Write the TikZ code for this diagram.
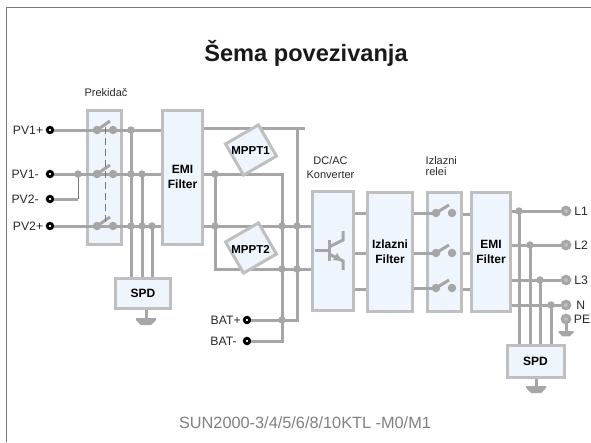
\documentclass[tikz,border=0pt]{standalone}
\usepackage{fontspec}
\setmainfont{Liberation Sans}
\usepackage{tikz}
\usetikzlibrary{arrows.meta,positioning,calc}
\tikzset{
  every node/.append style={font=\fontsize{12.2}{13}\selectfont},
}
\begin{document}
\begin{tikzpicture}[
    x=1pt,
    y=-1pt,
    block/.style={
        rectangle,
        draw=boxgray,
        fill=boxblue,
        line width=3pt,
        inner sep=0pt,
        align=center,
        font=\fontsize{12}{15}\selectfont\bfseries
    },
    wire/.style={line width=3pt, draw=wiregray},
    thinline/.style={line width=1pt, draw=framegray},
    dot/.style={circle, fill=wiregray, inner sep=0pt, minimum size=7.5pt},
    swdot/.style={circle, fill=wiregray, inner sep=0pt, minimum size=8.5pt},
    term/.style={circle, draw=black, fill=white, line width=2.8pt, inner sep=0pt, minimum size=5.5pt},
    outterm/.style={circle, draw=wiregray, fill=wirelight, line width=3pt, inner sep=0pt, minimum size=7.5pt},
    lbl/.style={inner sep=0pt, text=textdark},
    captext/.style={inner sep=0pt, text=textdark, font=\fontsize{11}{14}\selectfont, align=center},
    gnd/.pic={
        \fill[wiregray] (-10,0) -- (10,0) -- (10,2) -- (5,7) -- (-5,7) -- (-10,2) -- cycle;
    }
]
% Color definitions
\definecolor{boxgray}{RGB}{191,191,191}
\definecolor{boxblue}{RGB}{238,245,252}
\definecolor{wiregray}{RGB}{166,166,166}
\definecolor{wirelight}{RGB}{190,190,190}
\definecolor{framegray}{RGB}{120,120,120}
\definecolor{textdark}{RGB}{40,40,40}

\useasboundingbox (0,0) rectangle (591,442);
\draw[framegray, line width=1pt] (6.5,442) -- (6.5,7.5) -- (591,7.5);

% Titles
\node[inner sep=0pt, font=\fontsize{23.6}{25}\selectfont\bfseries, text=black!90] (title) at (306,53) {Šema povezivanja};
\node[inner sep=0pt, font=\fontsize{16.3}{18}\selectfont, text=black!50] (model) at (305,423) {SUN2000-3/4/5/6/8/10KTL -M0/M1};

% Blocks
\node[block, minimum width=34pt, minimum height=134pt] (brk) at (104.5,177.5) {};
\node[block, minimum width=40pt, minimum height=134pt] (emia) at (182.5,177) {EMI\\Filter};
\node[block, minimum width=55pt, minimum height=30pt] (spda) at (143,293.5) {SPD};
\node[block, minimum width=41pt, minimum height=119pt] (conv) at (333,251) {};
\node[block, minimum width=45pt, minimum height=119pt] (ofil) at (390,251.5) {Izlazni\\Filter};
\node[block, minimum width=34pt, minimum height=119pt] (rel) at (444,251.5) {};
\node[block, minimum width=39pt, minimum height=119pt] (emib) at (491,251.5) {EMI\\Filter};
\node[block, minimum width=57pt, minimum height=32pt] (spdb) at (535.5,361) {SPD};

% Captions
\node[captext] (brkcap) at (106,93) {Prekidač};
\node[captext] (convcap) at (330.5,168) {DC/AC\\Konverter};
\node[captext, align=left, anchor=west, font=\fontsize{11}{11}\selectfont] (relcap) at (425.5,166) {Izlazni\\relei};

% Input terminals
\node[term] (pva) at (50,130) {};
\node[term] (pvb) at (50,174) {};
\node[term] (pvc) at (50,199) {};
\node[term] (pvd) at (50,226) {};
\node[term] (bata) at (247,320) {};
\node[term] (batb) at (247,341) {};
\node[lbl, left=2.5pt of pva] (pvalbl) {PV1+};
\node[lbl, left=7pt of pvb] (pvblbl) {PV1-};
\node[lbl, left=7pt of pvc] (pvclbl) {PV2-};
\node[lbl, left=2.5pt of pvd] (pvdlbl) {PV2+};
\node[lbl, left=2pt of bata] (batalbl) {BAT+};
\node[lbl, left=6pt of batb] (batblbl) {BAT-};

% Junctions
\coordinate (jpv) at (78,174);
\coordinate (ja) at (131,130);
\coordinate (jb) at (131,174);
\coordinate (jc) at (131,226);
\coordinate (jd) at (142,174);
\coordinate (je) at (142,226);
\coordinate (jf) at (152,226);
\coordinate (jg) at (215,174);
\coordinate (jh) at (215,226);
\coordinate (ji) at (282,226);
\coordinate (jj) at (297,226);
\coordinate (jk) at (282,269);
\coordinate (jl) at (297,269);
\coordinate (jm) at (282,320);
\coordinate (top) at (297,128);
\coordinate (topend) at (305,128);

% Output terminals and junctions
\node[outterm] (la) at (566,211) {};
\node[outterm] (lb) at (566,245) {};
\node[outterm] (lc) at (566,280) {};
\node[outterm] (ln) at (566,305) {};
\node[outterm] (pe) at (566,319) {};
\node[lbl, right=3pt of la] (lalbl) {L1};
\node[lbl, right=3pt of lb] (lblbl) {L2};
\node[lbl, right=3pt of lc] (lclbl) {L3};
\node[lbl, right=5pt of ln] (lnlbl) {N};
\node[lbl, right=2.5pt of pe] (pelbl) {PE};
\coordinate (oa) at (519,211);
\coordinate (ob) at (530,245);
\coordinate (oc) at (540,280);
\coordinate (od) at (551,305);

% Input wiring
\draw[wire] (pva) -- (pva -| emia.west);
\draw[wire] (pvb) -- (pvb -| emia.west);
\draw[wire] (pvd) -- (pvd -| emia.west);
\draw[wire] (pvc) -- (pvc -| jpv);
\draw[thinline] (pvc -| jpv) -- (jpv);
\draw[wire] (ja) -- (ja |- spda.north);
\draw[wire] (jd) -- (jd |- spda.north);
\draw[wire] (jf) -- (jf |- spda.north);
\node[dot] (dpv) at (jpv) {};
\node[dot] (da) at (ja) {};
\node[dot] (db) at (jb) {};
\node[dot] (dc) at (jc) {};
\node[dot] (dd) at (jd) {};
\node[dot] (de) at (je) {};
\node[dot] (df) at (jf) {};

% Breaker
\node[swdot] (swaa) at (97,130) {};
\node[swdot] (swab) at (113,130) {};
\node[swdot] (swba) at (97,174) {};
\node[swdot] (swbb) at (113,174) {};
\node[swdot] (swca) at (97,226) {};
\node[swdot] (swcb) at (113,226) {};
\draw[wire] (swaa.center) -- ++(13,-9);
\draw[wire] (swba.center) -- ++(13,-9);
\draw[wire] (swca.center) -- ++(13,-9);
\draw[thinline, dash pattern=on 7pt off 4pt] (105,127) -- (105,222);

% DC bus
\draw[wire] (top -| emia.east) -- (topend);
\draw[wire] (top) -- (jm -| top) -- (bata);
\draw[wire] (jg -| emia.east) -- (jg -| ji) -- (batb -| ji) -- (batb);
\draw[wire] (jg) -- (jg |- jk) -- (jk -| conv.west);
\draw[wire] (jh -| emia.east) -- (jh -| conv.west);
\node[dot] (dg) at (jg) {};
\node[dot] (dh) at (jh) {};
\node[dot] (di) at (ji) {};
\node[dot] (dj) at (jj) {};
\node[dot] (dk) at (jk) {};
\node[dot] (dl) at (jl) {};
\node[dot] (dm) at (jm) {};

% MPPT blocks
\node[block, rotate=30, minimum width=38pt, minimum height=36pt] (mppta) at (251,150) {};
\node[block, rotate=30, minimum width=38pt, minimum height=36pt] (mpptb) at (251,248) {};
\node[inner sep=0pt, font=\fontsize{11.5}{12}\selectfont\bfseries] (mpptalbl) at (250.5,151) {MPPT1};
\node[inner sep=0pt, font=\fontsize{11.5}{12}\selectfont\bfseries] (mpptblbl) at (250.5,249) {MPPT2};

% Transistor
\draw[wire] (315,250) -- (329,250);
\draw[wire] (329,240) -- (329,261);
\draw[wire] (329,247) -- (343,240) -- (343,231);
\draw[wire] (329,254) -- (343,261) -- (343,270);
\fill[wiregray] (342,261) -- (333,260) -- (337,253) -- cycle;

% Output wiring
\draw[wire] (conv.east |- 0,213) -- (ofil.west |- 0,213);
\draw[wire] (conv.east |- 0,253) -- (ofil.west |- 0,253);
\draw[wire] (conv.east |- 0,289) -- (ofil.west |- 0,289);
\draw[wire] (ofil.east |- 0,213) -- (436,213);
\draw[wire] (ofil.east |- 0,253) -- (436,253);
\draw[wire] (ofil.east |- 0,288) -- (436,288);
\draw[wire] (rel.east |- 0,214) -- (emib.west |- 0,214);
\draw[wire] (rel.east |- 0,253) -- (emib.west |- 0,253);
\draw[wire] (rel.east |- 0,289) -- (emib.west |- 0,289);

% Relays
\node[swdot] (rlaa) at (436,213) {};
\node[swdot] (rlab) at (452,213) {};
\node[swdot] (rlba) at (436,253) {};
\node[swdot] (rlbb) at (452,253) {};
\node[swdot] (rlca) at (436,288) {};
\node[swdot] (rlcb) at (452,288) {};
\draw[wire] (rlaa.center) -- ++(13,-8);
\draw[wire] (rlba.center) -- ++(13,-8);
\draw[wire] (rlca.center) -- ++(13,-8);

\draw[wire] (emib.east |- la) -- (la);
\draw[wire] (emib.east |- lb) -- (lb);
\draw[wire] (emib.east |- lc) -- (lc);
\draw[wire] (emib.east |- ln) -- (ln);
\draw[wire] (oa) -- (oa |- spdb.north);
\draw[wire] (ob) -- (ob |- spdb.north);
\draw[wire] (oc) -- (oc |- spdb.north);
\draw[wire] (od) -- (od |- spdb.north);
\node[dot] (doa) at (oa) {};
\node[dot] (dob) at (ob) {};
\node[dot] (doc) at (oc) {};
\node[dot] (dod) at (od) {};

% Earth
\coordinate (gnda) at (146,318);
\coordinate (gndb) at (536,386);
\coordinate (gndc) at (566,331);
\draw[wire] (spda.south -| gnda) -- (gnda);
\draw[wire] (spdb.south -| gndb) -- (gndb);
\draw[wire] (pe) -- (gndc);
\pic at (gnda) {gnd};
\pic at (gndb) {gnd};
\pic[scale=0.75] at (gndc) {gnd};
\end{tikzpicture}
\end{document}
